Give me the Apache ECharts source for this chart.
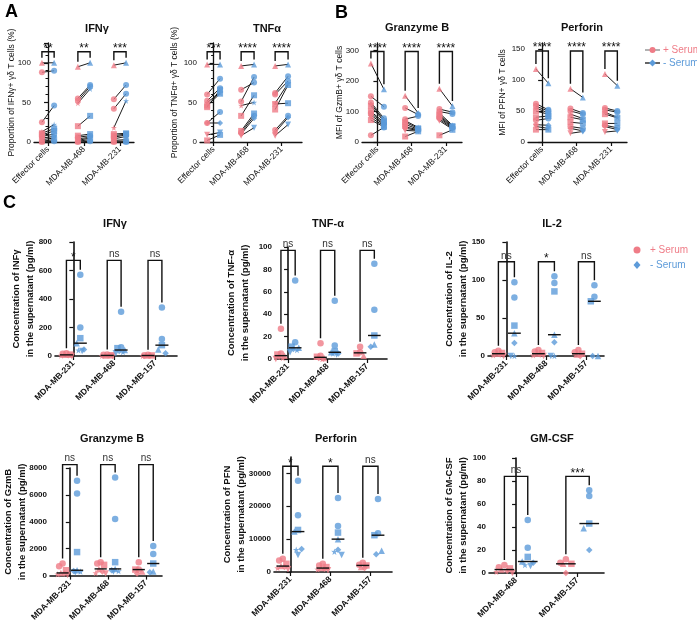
<!DOCTYPE html>
<html>
<head>
<meta charset="utf-8">
<script src="https://cdn.jsdelivr.net/npm/echarts@6/dist/echarts.min.js"></script>
<style>
  html, body { margin: 0; background: #fff; }
  #chart { width: 697px; height: 624px; }
</style>
</head>
<body>
<div id="chart"></div>
<script>
const RED = '#ef7c87'
const BLUE = '#5d9bd9'
const FONT = '"Liberation Sans", Arial, sans-serif'

// ---- A / B : paired donors (+ Serum vs - Serum) ----
const catsAB = ['Effector cells', 'MDA-MB-468', 'MDA-MB-231']

const ifngPlus = [[100, 88, 25, 13, 11, 9, 7, 5, 3, 1, 0], [95, 55, 52, 49, 20, 8, 6, 4, 2, 1, 0], [97, 54, 42, 18, 10, 8, 6, 4, 2, 1, 0]]
const ifngMinus = [[100, 90, 46, 22, 17, 14, 10, 7, 5, 3, 1], [100, 72, 70, 67, 33, 10, 8, 6, 5, 3, 1], [100, 72, 61, 52, 11, 10, 9, 7, 3, 1, 0]]
const ifngSig = ['**', '**', '***']

const tnfPlus = [[98, 60, 52, 50, 46, 44, 24, 24, 9, 2], [96, 66, 51, 46, 33, 14, 12, 10, 8], [96, 62, 60, 49, 48, 41, 15, 12, 8]]
const tnfMinus = [[98, 80, 68, 62, 61, 66, 38, 24, 12, 9], [98, 75, 82, 50, 59, 36, 33, 30, 18], [98, 83, 77, 74, 49, 72, 33, 31, 22]]
const tnfSig = ['***', '****', '****']

const gzmbPlus = [[258, 150, 130, 125, 118, 100, 95, 88, 80, 72, 22], [152, 112, 75, 70, 65, 58, 50, 45, 38, 18], [175, 108, 100, 95, 90, 85, 80, 75, 70, 22]]
const gzmbMinus = [[173, 116, 78, 72, 68, 65, 60, 57, 53, 50, 48], [95, 90, 85, 48, 45, 42, 40, 38, 36, 35], [118, 98, 92, 55, 52, 50, 48, 45, 42, 40]]
const gzmbSig = ['****', '****', '****']

const pfnPlus = [[118, 62, 58, 55, 50, 40, 35, 28, 25, 20], [86, 54, 50, 45, 40, 32, 25, 22, 14], [110, 55, 52, 48, 45, 30, 27, 25, 16]]
const pfnMinus = [[95, 52, 50, 47, 45, 42, 38, 27, 22, 20], [72, 47, 45, 38, 36, 30, 22, 18, 17], [91, 50, 48, 40, 39, 30, 23, 20, 18]]
const pfnSig = ['****', '****', '****']

// ---- C : supernatant concentrations ----
const catsC = ['MDA-MB-231', 'MDA-MB-468', 'MDA-MB-157']
const catsGm = ['MDA-MB-468', 'MDA-MB-157']

const cIfngPlus = [[20, 15, 10, 8, 5, 3, 0], [10, 8, 5, 4, 3, 1, 0], [8, 6, 4, 3, 2, 0]]
const cIfngMinus = [[570, 200, 125, 90, 45, 40, 35], [310, 62, 55, 42, 35, 28, 20], [340, 120, 76, 45, 20]]
const cIfngSig = ['*', 'ns', 'ns']

const cTnfPlus = [[27, 5, 4, 3, 2, 1, 0], [14, 3, 2, 1, 1, 0], [11, 6, 5, 3]]
const cTnfMinus = [[70, 15, 11, 10, 9, 8, 6], [52, 12, 7, 6, 5, 5, 4], [85, 44, 21, 13, 11]]
const cTnfSig = ['ns', 'ns', 'ns']

const il2Plus = [[7, 5, 4, 3, 2, 1, 0], [8, 6, 4, 3, 2, 1, 0], [8, 5, 3, 2, 0]]
const il2Minus = [[97, 77, 40, 30, 17, 0, 0], [105, 96, 85, 28, 18, 0, 0], [93, 78, 72, 0, 0]]
const il2Sig = ['ns', '*', 'ns']

const cGzmbPlus = [[900, 700, 400, 200, 150, 100, 50], [1000, 900, 800, 500, 300, 200, 150], [1000, 450, 450, 300, 150]]
const cGzmbMinus = [[7050, 6100, 1750, 400, 350, 300, 250], [7300, 4200, 1000, 500, 400, 350, 300], [2200, 1600, 900, 300, 250]]
const cGzmbSig = ['ns', 'ns', 'ns']

const cPfnPlus = [[4000, 3500, 2500, 1800, 1500, 1200, 800], [2500, 2000, 1500, 1200, 1000, 800, 500], [2800, 2200, 2000, 1500, 1200]]
const cPfnMinus = [[27800, 17300, 12800, 12300, 7000, 6800, 5200], [22500, 14000, 12000, 10000, 6800, 6200, 5200], [22200, 11800, 11200, 6500, 5400]]
const cPfnSig = ['*', '*', 'ns']

const gmPlus = [[7, 5, 4, 3, 2, 1, 0], [12, 9, 8, 8, 0]]
const gmMinus = [[46, 22, 14, 10, 9, 7, 6], [72, 67, 43, 39, 20]]
const gmSig = ['ns', '***']

const STAR = 'path://M50 0L61.8 35.1L97.6 34.5L69.1 56.7L79.4 90.5L50 70.5L20.6 90.5L30.9 56.7L2.4 34.5L38.2 35.1Z'
const SYM = {
  circle: { symbol: 'circle' },
  rect: { symbol: 'rect' },
  triangle: { symbol: 'triangle' },
  inv: { symbol: 'triangle', symbolRotate: 180 },
  diamond: { symbol: 'diamond' },
  star: { symbol: STAR }
}
const pairSeq = ['triangle', 'circle', 'circle', 'star', 'rect', 'rect', 'circle', 'diamond', 'inv', 'rect', 'circle']
const cSeq = ['circle', 'circle', 'rect', 'triangle', 'diamond', 'star', 'inv']
const JIT = [0, -0.09, 0.09, -0.045, 0.045, -0.13, 0.13]

// panel layout
const panels = [
  { title: 'IFNγ', tx: 92, ty: 28, box: [34, 43, 100, 99], xr: [-0.39, 2.39], cats: catsAB, yMax: 125, yInt: 50, minor: true,
    yName: 'Proportion of IFNγ+ γδ T cells (%)', gap: 17, plus: ifngPlus, minus: ifngMinus, sig: ifngSig, top: 114, off: 0.17, paired: true },
  { title: 'TNFα', tx: 262, ty: 28, box: [200, 43, 102, 99], xr: [-0.4, 2.6], cats: catsAB, yMax: 125, yInt: 50, minor: true,
    yName: 'Proportion of TNFα+ γδ T cells (%)', gap: 20, plus: tnfPlus, minus: tnfMinus, sig: tnfSig, top: 114, off: 0.19, paired: true },
  { title: 'Granzyme B', tx: 412, ty: 27, box: [362, 43, 100, 99], xr: [-0.45, 2.47], cats: catsAB, yMax: 325, yInt: 100,
    yName: 'MFI of GzmB+ γδ T cells', gap: 17, plus: gzmbPlus, minus: gzmbMinus, sig: gzmbSig, top: 297, off: 0.19, paired: true },
  { title: 'Perforin', tx: 577, ty: 27, box: [528, 43, 99, 99], xr: [-0.41, 2.46], cats: catsAB, yMax: 160, yInt: 50,
    yName: 'MFI of PFN+ γδ T cells', gap: 20, plus: pfnPlus, minus: pfnMinus, sig: pfnSig, top: 147, off: 0.18, paired: true },

  { title: 'IFNγ', tx: 110, ty: 223, box: [55, 242, 122, 114], xr: [-0.45, 2.54], cats: catsC, yMax: 800, yInt: 200,
    yName: 'Concentration of INFγ\nin the supernatant (pg/ml)', gap: 18, plus: cIfngPlus, minus: cIfngMinus, sig: cIfngSig, top: 671, off: 0.17 },
  { title: 'TNF-α', tx: 323, ty: 223, box: [275, 247, 112, 112], xr: [-0.33, 2.5], cats: catsC, yMax: 100, yInt: 20,
    yName: 'Concentration of TNF-α\nin the supernatant (pg/ml)', gap: 23, plus: cTnfPlus, minus: cTnfMinus, sig: cTnfSig, top: 97, off: 0.18 },
  { title: 'IL-2', tx: 547, ty: 223, box: [488, 242, 116, 114], xr: [-0.46, 2.44], cats: catsC, yMax: 150, yInt: 50,
    yName: 'Concentration of IL-2\nin the supernatant (pg/ml)', gap: 18, plus: il2Plus, minus: il2Minus, sig: il2Sig, top: 124, off: 0.2 },

  { title: 'Granzyme B', tx: 107, ty: 438, box: [49, 468, 113, 108], xr: [-0.52, 2.42], cats: catsC, yMax: 8000, yInt: 2000,
    yName: 'Concentration of GzmB\nin the supernatant (pg/ml)', gap: 21, plus: cGzmbPlus, minus: cGzmbMinus, sig: cGzmbSig, top: 8250, off: 0.19 },
  { title: 'Perforin', tx: 331, ty: 438, box: [274, 457, 118, 115], xr: [-0.41, 2.54], cats: catsC, yMax: 35000, yInt: 10000,
    yName: 'Concentration of PFN\nin the supernatant (pg/ml)', gap: 26, plus: cPfnPlus, minus: cPfnMinus, sig: cPfnSig, top: 32200, off: 0.19 },
  { title: 'GM-CSF', tx: 547, ty: 438, box: [489, 458, 115, 115], xr: [-0.44, 1.43], cats: catsGm, yMax: 100, yInt: 20,
    yName: 'Concentration of GM-CSF\nin the supernatant (pg/ml)', gap: 19, plus: gmPlus, minus: gmMinus, sig: gmSig, top: 84, off: 0.19 }
]

const median = (a) => {
  const s = [...a].sort((x, y) => x - y)
  const n = s.length
  return n % 2 ? s[(n - 1) / 2] : (s[n / 2 - 1] + s[n / 2]) / 2
}

// spread only the points that would sit on top of each other
const jitter = (vals, yMax) => {
  let k = 0
  return vals.map((v, i) => {
    const crowded = vals.some((w, j) => j !== i && Math.abs(w - v) < yMax * 0.045)
    return crowded ? JIT[k++ % JIT.length] : 0
  })
}

const option = {
  animation: false,
  backgroundColor: '#fff',
  textStyle: { fontFamily: FONT },
  title: [
    { text: 'A', left: 0, top: -2, textStyle: { fontSize: 18, fontWeight: 'bold', color: '#000', fontFamily: FONT } },
    { text: 'B', left: 330, top: -1, textStyle: { fontSize: 18, fontWeight: 'bold', color: '#000', fontFamily: FONT } },
    { text: 'C', left: -2, top: 189, textStyle: { fontSize: 18, fontWeight: 'bold', color: '#000', fontFamily: FONT } }
  ],
  grid: [],
  xAxis: [],
  yAxis: [],
  series: [],
  graphic: []
}

panels.forEach((p, gi) => {
  const isC = !p.paired
  const bold = isC ? 'bold' : 'normal'
  const centers = p.cats.map((_, i) => i)
  const tickTop = p.yMax % p.yInt === 0

  option.title.push({
    text: p.title, left: p.tx, top: p.ty - 10, textAlign: 'center',
    textStyle: { fontSize: 11, fontWeight: 'bold', color: '#111', fontFamily: FONT }
  })
  option.grid.push({ left: p.box[0], top: p.box[1], width: p.box[2], height: p.box[3] })
  option.xAxis.push({
    gridIndex: gi, type: 'value', min: p.xr[0], max: p.xr[1],
    axisLine: { show: true, lineStyle: { color: '#111', width: isC ? 1.6 : 1.3 } },
    axisTick: { show: true, customValues: centers, length: 4, lineStyle: { color: '#111', width: 1.2 } },
    axisLabel: {
      customValues: centers, formatter: (v) => p.cats[Math.round(v)], rotate: 45, margin: 6,
      fontSize: 8.5, fontWeight: bold, color: '#111', fontFamily: FONT
    },
    splitLine: { show: false }
  })
  option.yAxis.push({
    gridIndex: gi, type: 'value', min: 0, max: p.yMax, interval: p.yInt,
    axisLine: { show: true, lineStyle: { color: '#111', width: isC ? 1.6 : 1.3 } },
    axisTick: { show: true, length: 4, lineStyle: { color: '#111', width: 1.2 } },
    minorTick: { show: !!p.minor, splitNumber: 5, length: 2.5, lineStyle: { color: '#111' } },
    axisLabel: {
      fontSize: 8, fontWeight: bold, color: '#111', margin: 3, fontFamily: FONT,
      showMaxLabel: tickTop, formatter: (v) => String(v)
    },
    splitLine: { show: false },
    name: p.yName, nameLocation: 'middle', nameGap: p.gap, nameMoveOverlap: false,
    nameTextStyle: { fontSize: isC ? 9.5 : 8.5, fontWeight: bold, color: '#111', lineHeight: isC ? 14 : 10, fontFamily: FONT }
  })

  const size = isC ? 6.5 : 6
  const seq = isC ? cSeq : pairSeq
  const toItems = (cols, sign) => {
    const out = []
    cols.forEach((col, i) => {
      const jit = isC ? jitter(col, p.yMax) : col.map(() => 0)
      col.forEach((v, k) => out.push(Object.assign({ value: [i + sign * p.off + jit[k], v] }, SYM[seq[k % seq.length]])))
    })
    return out
  }

  if (p.paired) {
    const pairs = []
    p.plus.forEach((col, i) => col.forEach((v, k) => pairs.push([i - p.off, v, i + p.off, p.minus[i][k]])))
    option.series.push({
      type: 'custom', xAxisIndex: gi, yAxisIndex: gi, silent: true, z: 1, data: pairs,
      renderItem: (params, api) => {
        const a = api.coord([api.value(0), api.value(1)])
        const b = api.coord([api.value(2), api.value(3)])
        return { type: 'line', shape: { x1: a[0], y1: a[1], x2: b[0], y2: b[1] }, style: { stroke: '#1a1a1a', lineWidth: 1 } }
      }
    })
  }

  option.series.push({
    type: 'scatter', name: '+ Serum', xAxisIndex: gi, yAxisIndex: gi, symbolSize: size, z: 3,
    itemStyle: { color: RED }, data: toItems(p.plus, -1)
  })
  option.series.push({
    type: 'scatter', name: '- Serum', xAxisIndex: gi, yAxisIndex: gi, symbolSize: size, z: 4,
    itemStyle: { color: BLUE }, data: toItems(p.minus, 1)
  })

  if (isC) {
    const meds = []
    p.plus.forEach((col, i) => meds.push([i - p.off, median(col)]))
    p.minus.forEach((col, i) => meds.push([i + p.off, median(col)]))
    option.series.push({
      type: 'custom', xAxisIndex: gi, yAxisIndex: gi, silent: true, z: 5, data: meds,
      renderItem: (params, api) => {
        const l = api.coord([api.value(0) - 0.16, api.value(1)])
        const r = api.coord([api.value(0) + 0.16, api.value(1)])
        return { type: 'line', shape: { x1: l[0], y1: l[1], x2: r[0], y2: r[1] }, style: { stroke: '#111', lineWidth: 1.4 } }
      }
    })
  }

  // significance brackets
  const brackets = p.sig.map((s, i) => [i, p.top, Math.max(...p.plus[i]), Math.max(...p.minus[i])])
  option.series.push({
    type: 'custom', xAxisIndex: gi, yAxisIndex: gi, silent: true, z: 6, data: brackets,
    renderItem: (params, api) => {
      const i = api.value(0)
      const yt = api.coord([i, api.value(1)])[1]
      const xl = api.coord([i - p.off, 0])[0]
      const xr = api.coord([i + p.off, 0])[0]
      const yl = Math.max(yt, api.coord([i, api.value(2)])[1] - 5)
      const yr = Math.max(yt, api.coord([i, api.value(3)])[1] - 5)
      const s = p.sig[params.dataIndex]
      const star = s.indexOf('*') >= 0
      return {
        type: 'group',
        children: [
          { type: 'polyline', shape: { points: [[xl, yl], [xl, yt], [xr, yt], [xr, yr]] }, style: { stroke: '#111', lineWidth: 1.4, fill: null } },
          { type: 'text', x: (xl + xr) / 2, y: star ? yt + 3 : yt - 1,
            style: { text: s, align: 'center', verticalAlign: 'bottom', fontSize: star ? 12 : 10, fontFamily: FONT, fill: star ? '#111' : '#333' } }
        ]
      }
    }
  })
})

// legends
const legendText = (x, y, text, color) => ({
  type: 'text', x, y, style: { text, fill: color, fontSize: 10, fontFamily: FONT, verticalAlign: 'middle' }
})
option.graphic = [
  { type: 'line', shape: { x1: 645, y1: 50, x2: 660, y2: 50 }, style: { stroke: '#999', lineWidth: 1.5 } },
  { type: 'circle', shape: { cx: 652.5, cy: 50, r: 3 }, style: { fill: RED } },
  legendText(663, 50, '+ Serum', RED),
  { type: 'line', shape: { x1: 645, y1: 63, x2: 660, y2: 63 }, style: { stroke: '#333', lineWidth: 1.5 } },
  { type: 'polygon', shape: { points: [[652.5, 59.5], [656, 63], [652.5, 66.5], [649, 63]] }, style: { fill: BLUE } },
  legendText(663, 63, '- Serum', BLUE),

  { type: 'circle', shape: { cx: 637, cy: 250, r: 3.5 }, style: { fill: RED } },
  legendText(650, 250, '+ Serum', RED),
  { type: 'polygon', shape: { points: [[637, 261], [640.5, 265], [637, 269], [633.5, 265]] }, style: { fill: BLUE } },
  legendText(650, 265, '- Serum', BLUE)
]

const myChart = echarts.init(document.getElementById('chart'))
myChart.setOption(option)
</script>
</body>
</html>
